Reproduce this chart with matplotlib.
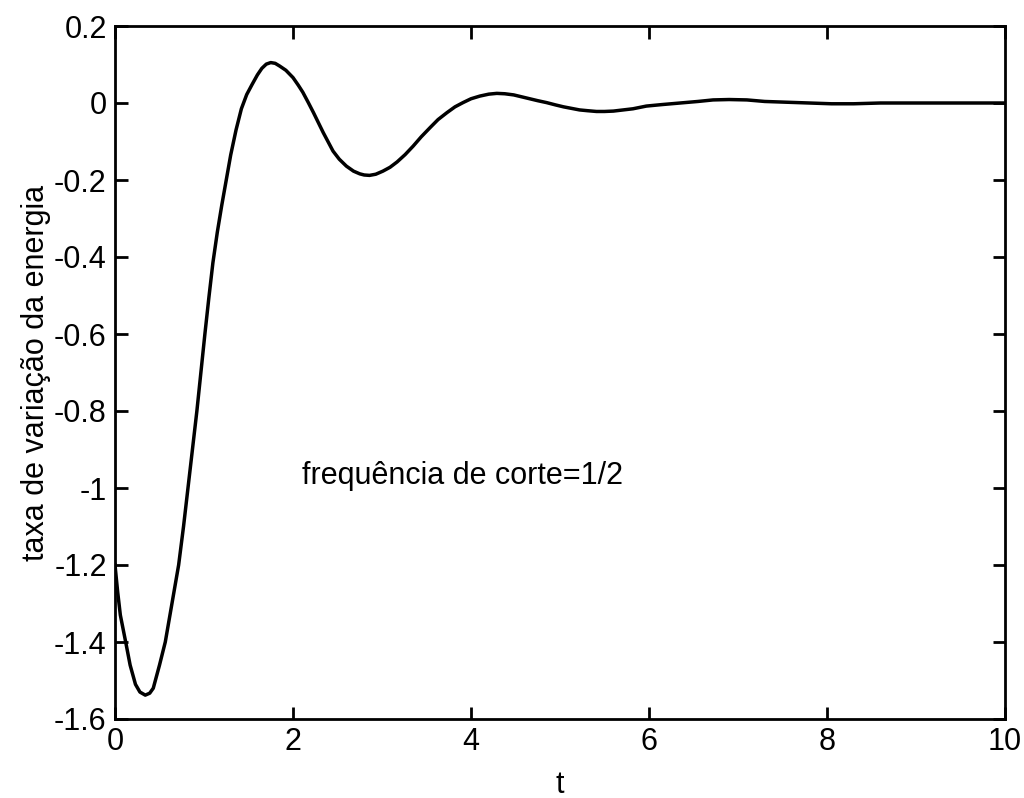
import matplotlib
matplotlib.use("Agg")
import matplotlib.pyplot as plt
from matplotlib.ticker import FuncFormatter

plt.rcParams["font.family"] = ["Liberation Sans", "DejaVu Sans"]
plt.rcParams["axes.unicode_minus"] = False

# energy rate response, cutoff frequency 1/2
t = [0.00, 0.03, 0.06, 0.12, 0.17, 0.23, 0.28, 0.34, 0.39, 0.43, 0.50,
     0.565, 0.64, 0.715, 0.77, 0.82, 0.87, 0.92, 0.965, 1.01, 1.055, 1.10,
     1.15, 1.20, 1.25, 1.30, 1.36, 1.42, 1.48, 1.54, 1.60, 1.65, 1.70,
     1.75, 1.80, 1.85, 1.92, 2.00, 2.06, 2.11, 2.17, 2.23, 2.34, 2.45,
     2.52, 2.60, 2.68, 2.75, 2.80, 2.86, 2.93, 3.01, 3.09, 3.17, 3.26,
     3.35, 3.44, 3.54, 3.63, 3.73, 3.82, 3.91, 4.00, 4.10, 4.20, 4.29,
     4.38, 4.48, 4.57, 4.66, 4.75, 4.85, 4.95, 5.04, 5.13, 5.22, 5.31,
     5.41, 5.50, 5.60, 5.71, 5.82, 5.97, 6.15, 6.35, 6.55, 6.72, 6.90,
     7.10, 7.30, 7.55, 7.80, 8.05, 8.30, 8.60, 9.00, 9.50, 10.0]
taxa = [-1.20, -1.27, -1.33, -1.40, -1.46, -1.51, -1.530, -1.538, -1.533,
        -1.52, -1.46, -1.40, -1.30, -1.20, -1.10, -1.00, -0.90, -0.80,
        -0.70, -0.60, -0.505, -0.415, -0.335, -0.265, -0.20, -0.135,
        -0.07, -0.015, 0.022, 0.048, 0.073, 0.090, 0.101, 0.105, 0.103,
        0.096, 0.085, 0.066, 0.046, 0.028, 0.002, -0.025, -0.077, -0.125,
        -0.146, -0.164, -0.177, -0.184, -0.187, -0.188, -0.185, -0.177,
        -0.167, -0.153, -0.134, -0.112, -0.088, -0.064, -0.043, -0.025,
        -0.010, 0.001, 0.011, 0.018, 0.023, 0.025, 0.024, 0.021, 0.016,
        0.011, 0.006, 0.001, -0.005, -0.010, -0.014, -0.018, -0.020,
        -0.022, -0.022, -0.021, -0.018, -0.015, -0.008, -0.004, 0.0, 0.004,
        0.008, 0.009, 0.008, 0.004, 0.002, 0.0, -0.002, -0.002, 0.0, 0.0,
        0.0, 0.0]

xticks = [0, 2, 4, 6, 8, 10]
yticks = [-1.6, -1.4, -1.2, -1.0, -0.8, -0.6, -0.4, -0.2, 0.0, 0.2]

fig = plt.figure(figsize=(10.24, 7.98), dpi=100)
ax = fig.add_axes([115 / 1024, 1 - 719 / 798, 890 / 1024, 693 / 798])

ax.plot(t, taxa, color="black", linewidth=2.5, solid_joinstyle="round")

ax.set_xlim(0, 10)
ax.set_ylim(-1.6, 0.2)
ax.set_xticks(xticks)
ax.set_yticks(yticks)
ax.yaxis.set_major_formatter(FuncFormatter(lambda v, p: "%g" % round(v, 2)))
ax.tick_params(direction="in", length=9, width=2, labelsize=22,
               top=True, right=True)
ax.tick_params(axis="x", pad=6)
ax.tick_params(axis="y", pad=6)
for s in ax.spines.values():
    s.set_linewidth(2)

ax.set_xlabel("t", fontsize=22, labelpad=9)
ax.set_ylabel("taxa de variação da energia", fontsize=22, labelpad=2)

ax.text(2.1, -0.97, "frequência de corte=1/2", fontsize=22, va="center")

fig.savefig("out.png", dpi=100)
